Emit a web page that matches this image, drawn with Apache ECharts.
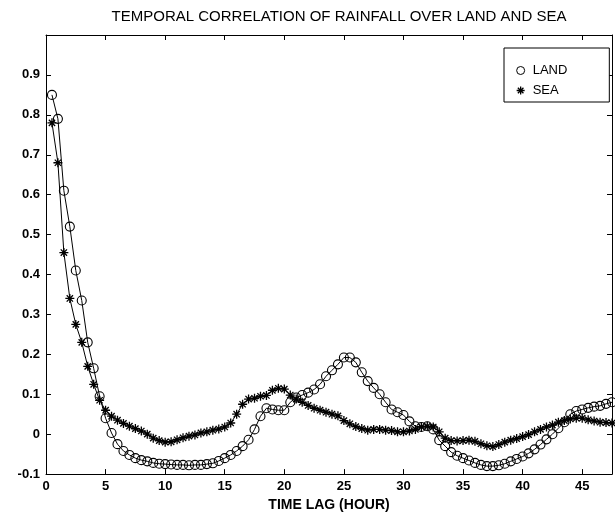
<!DOCTYPE html>
<html>
<head>
<meta charset="utf-8">
<script src="https://cdn.jsdelivr.net/npm/echarts@6/dist/echarts.min.js"></script>
<style>
  html, body { margin: 0; padding: 0; background: #fff; }
  #chart { width: 615px; height: 517px; }
</style>
</head>
<body>
<div id="chart"></div>
<script>
// Lag times (hours) at which the correlation is sampled
const lagHours = [
  0.5, 1, 1.5, 2, 2.5, 3, 3.5, 4, 4.5, 5,
  5.5, 6, 6.5, 7, 7.5, 8, 8.5, 9, 9.5, 10,
  10.5, 11, 11.5, 12, 12.5, 13, 13.5, 14, 14.5, 15,
  15.5, 16, 16.5, 17, 17.5, 18, 18.5, 19, 19.5, 20,
  20.5, 21, 21.5, 22, 22.5, 23, 23.5, 24, 24.5, 25,
  25.5, 26, 26.5, 27, 27.5, 28, 28.5, 29, 29.5, 30,
  30.5, 31, 31.5, 32, 32.5, 33, 33.5, 34, 34.5, 35,
  35.5, 36, 36.5, 37, 37.5, 38, 38.5, 39, 39.5, 40,
  40.5, 41, 41.5, 42, 42.5, 43, 43.5, 44, 44.5, 45,
  45.5, 46, 46.5, 47, 47.5
];

// Correlation over land
const landCorr = [
  0.85, 0.79, 0.61, 0.52, 0.41, 0.335, 0.23, 0.165, 0.095, 0.04,
  0.003, -0.025, -0.042, -0.052, -0.06, -0.065, -0.068, -0.072, -0.074, -0.075,
  -0.076, -0.077, -0.077, -0.078, -0.077, -0.077, -0.075, -0.073, -0.067, -0.06,
  -0.052, -0.042, -0.03, -0.014, 0.012, 0.045, 0.065, 0.062, 0.06, 0.06,
  0.08, 0.092, 0.098, 0.104, 0.112, 0.125, 0.145, 0.16, 0.175, 0.192,
  0.192, 0.18, 0.155, 0.133, 0.116, 0.1, 0.08, 0.062, 0.055, 0.048,
  0.032, 0.02, 0.018, 0.02, 0.012, -0.015, -0.03, -0.045, -0.054, -0.06,
  -0.066, -0.072, -0.077, -0.08, -0.08, -0.078, -0.074, -0.068, -0.062, -0.056,
  -0.048, -0.038, -0.026, -0.013, 0.0, 0.015, 0.03, 0.05, 0.058, 0.062,
  0.066, 0.069, 0.071, 0.076, 0.08
];

// Correlation over sea
const seaCorr = [
  0.78, 0.68, 0.455, 0.34, 0.275, 0.23, 0.17, 0.125, 0.085, 0.06,
  0.045, 0.035, 0.027, 0.02, 0.014, 0.008, 0.0, -0.01, -0.016, -0.02,
  -0.019, -0.014, -0.009, -0.005, -0.002, 0.003, 0.006, 0.01, 0.013, 0.018,
  0.028, 0.05, 0.075, 0.088, 0.09, 0.095, 0.097, 0.11, 0.115, 0.113,
  0.098, 0.088, 0.08, 0.072, 0.065, 0.06, 0.055, 0.05, 0.046, 0.034,
  0.026, 0.019, 0.014, 0.01, 0.012, 0.012, 0.01, 0.009, 0.006, 0.006,
  0.008, 0.012, 0.018, 0.02, 0.018, 0.006, -0.01, -0.016, -0.017, -0.016,
  -0.015, -0.018, -0.024, -0.029, -0.031, -0.026, -0.02, -0.015, -0.011, -0.006,
  -0.001, 0.006, 0.012, 0.018, 0.023, 0.03, 0.034, 0.038, 0.04, 0.04,
  0.036, 0.033, 0.03, 0.029, 0.028
];

const seriesNames = ['LAND', 'SEA'];
const xTickLabels = ['0', '5', '10', '15', '20', '25', '30', '35', '40', '45'];
const yTickLabels = ['-0.1', '0', '0.1', '0.2', '0.3', '0.4', '0.5', '0.6', '0.7', '0.8', '0.9'];

const FONT = '"Liberation Sans", Arial, Helvetica, sans-serif';
// eight-armed asterisk marker
const ASTERISK = 'path://M0,-10L0,10M-10,0L10,0M-7,-7L7,7M-7,7L7,-7';

function pairs(values) {
  return lagHours.map((h, i) => [h, values[i]]);
}

function fmtX(v) {
  const s = String(Math.round(v * 100) / 100);
  return xTickLabels.indexOf(s) >= 0 ? s : '';
}
function fmtY(v) {
  const s = String(Math.round(v * 100) / 100);
  return yTickLabels.indexOf(s) >= 0 ? s : '';
}

const boxAxisLine = { show: true, onZero: false, lineStyle: { color: '#000', width: 1 } };
const boxTick = { show: true, inside: true, length: 5, lineStyle: { color: '#000', width: 1 } };
const tickFont = { color: '#000', fontFamily: FONT, fontSize: 13, fontWeight: 'bold' };

const chart = echarts.init(document.getElementById('chart'), null, { renderer: 'canvas' });

chart.setOption({
  backgroundColor: '#fff',
  animation: false,
  title: {
    text: 'TEMPORAL CORRELATION OF RAINFALL OVER LAND AND SEA',
    left: 334,
    textAlign: 'center',
    top: 4,
    textStyle: { color: '#000', fontFamily: FONT, fontSize: 15, fontWeight: 'normal' }
  },
  grid: { left: 46, right: 3, top: 35, bottom: 35 },
  legend: {
    orient: 'vertical',
    left: 504,
    top: 48,
    padding: [16, 42, 5, 12],
    itemWidth: 8,
    itemHeight: 12,
    itemGap: 7,
    borderColor: '#000',
    borderWidth: 1,
    backgroundColor: '#fff',
    textStyle: { color: '#000', fontFamily: FONT, fontSize: 13, lineHeight: 12, padding: [0, 0, 0, 3] },
    data: [
      { name: 'LAND', icon: 'circle', itemStyle: { color: 'transparent', borderColor: '#000', borderWidth: 1 } },
      { name: 'SEA', icon: ASTERISK, itemStyle: { color: 'transparent', borderColor: '#000', borderWidth: 1.3 } }
    ]
  },
  xAxis: [
    {
      type: 'value', position: 'bottom', min: 0, max: 47.5, interval: 5,
      axisLine: boxAxisLine, axisTick: boxTick, splitLine: { show: false },
      axisLabel: Object.assign({ margin: 6, formatter: fmtX }, tickFont),
      name: 'TIME LAG (HOUR)', nameLocation: 'middle', nameGap: 21,
      nameTextStyle: { color: '#000', fontFamily: FONT, fontSize: 14, fontWeight: 'bold' }
    },
    {
      type: 'value', position: 'top', min: 0, max: 47.5, interval: 5,
      axisLine: boxAxisLine, axisTick: boxTick, splitLine: { show: false },
      axisLabel: { show: false }
    }
  ],
  yAxis: [
    {
      type: 'value', position: 'left', min: -0.1, max: 1.0, interval: 0.1,
      axisLine: boxAxisLine, axisTick: boxTick, splitLine: { show: false },
      axisLabel: Object.assign({ margin: 6, formatter: fmtY }, tickFont)
    },
    {
      type: 'value', position: 'right', min: -0.1, max: 1.0, interval: 0.1,
      axisLine: boxAxisLine, axisTick: boxTick, splitLine: { show: false },
      axisLabel: { show: false }
    }
  ],
  series: [
    {
      name: seriesNames[0], type: 'line', xAxisIndex: 0, yAxisIndex: 0,
      data: pairs(landCorr),
      symbol: 'circle', symbolSize: 9, showAllSymbol: true,
      itemStyle: { color: 'transparent', borderColor: '#000', borderWidth: 1.1 },
      lineStyle: { color: '#000', width: 1 },
      emphasis: { disabled: true }, z: 3
    },
    {
      name: seriesNames[1], type: 'line', xAxisIndex: 0, yAxisIndex: 0,
      data: pairs(seaCorr),
      symbol: ASTERISK, symbolSize: 9, showAllSymbol: true,
      itemStyle: { color: 'transparent', borderColor: '#000', borderWidth: 1.3 },
      lineStyle: { color: '#000', width: 1 },
      emphasis: { disabled: true }, z: 2
    }
  ]
});
</script>
</body>
</html>
